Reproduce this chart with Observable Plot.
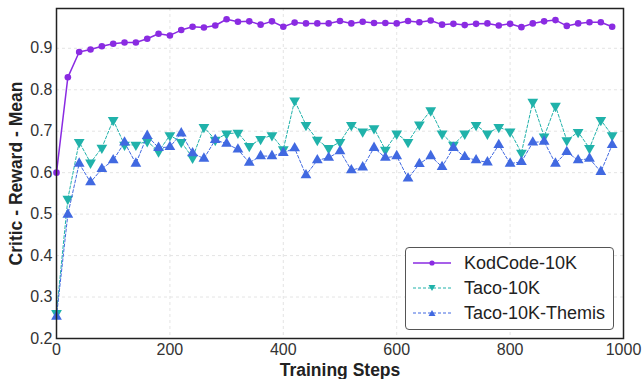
<!DOCTYPE html>
<html><head><meta charset="utf-8">
<script src="https://cdn.jsdelivr.net/npm/d3@7"></script>
<script src="https://cdn.jsdelivr.net/npm/@observablehq/plot@0.6"></script>
<style>
body{margin:0;background:#fff;font-family:"Liberation Sans",Arial,sans-serif;}
#wrap{position:relative;width:642px;height:379px;overflow:hidden;}
#legend{position:absolute;left:405px;top:247px;width:209px;height:83px;border:1.2px solid #555;border-radius:4px;background:#fff;box-sizing:border-box;font-size:18px;color:#222;}
.row{position:absolute;left:7px;height:24px;display:flex;align-items:center;}
.row span{margin-left:13px;}
</style></head>
<body><div id="wrap"></div>
<script>
const steps = d3.range(0, 1000, 20);
const kodcode = [0.600,0.830,0.891,0.897,0.905,0.911,0.914,0.914,0.923,0.935,
 0.931,0.944,0.952,0.950,0.955,0.970,0.964,0.965,0.957,0.965,
 0.952,0.962,0.960,0.960,0.960,0.966,0.960,0.964,0.961,0.961,
 0.960,0.966,0.963,0.967,0.957,0.959,0.956,0.959,0.960,0.955,
 0.959,0.951,0.960,0.965,0.968,0.954,0.960,0.963,0.963,0.952];
const taco = [0.261,0.537,0.674,0.624,0.660,0.727,0.667,0.667,0.676,0.651,
 0.690,0.674,0.636,0.710,0.679,0.694,0.696,0.664,0.681,0.690,
 0.656,0.774,0.715,0.679,0.659,0.674,0.715,0.699,0.707,0.655,
 0.694,0.674,0.716,0.750,0.694,0.667,0.694,0.715,0.694,0.710,
 0.699,0.648,0.771,0.687,0.761,0.678,0.698,0.659,0.727,0.690];
const themis = [0.253,0.499,0.622,0.577,0.609,0.630,0.673,0.622,0.689,0.660,
 0.662,0.695,0.647,0.634,0.679,0.670,0.656,0.624,0.640,0.640,
 0.648,0.659,0.594,0.630,0.636,0.652,0.606,0.613,0.660,0.636,
 0.640,0.586,0.621,0.640,0.614,0.660,0.638,0.630,0.625,0.667,
 0.622,0.626,0.673,0.675,0.622,0.650,0.630,0.634,0.602,0.667];
const seriesNames = ["KodCode-10K","Taco-10K","Taco-10K-Themis"];
const colors = ["#8a2be2","#20b2aa","#4169e1"];
const xTicks = [0,200,400,600,800,1000];
const yTicks = [0.2,0.3,0.4,0.5,0.6,0.7,0.8,0.9];

const mk = (vals) => steps.map((s,i)=>({step:s, v:vals[i]}));
const dK = mk(kodcode), dT = mk(taco), dH = mk(themis);

const plot = Plot.plot({
  width: 642, height: 379,
  marginLeft: 56, marginRight: 19, marginTop: 8, marginBottom: 41,
  style: {fontFamily: '"Liberation Sans", Arial, sans-serif', fontSize: "16px", color: "#333", background: "#fff", overflow: "visible"},
  x: {domain: [0, 1000]},
  y: {domain: [0.2, 0.996]},
  marks: [
    Plot.gridX(xTicks, {stroke: "#ddd", strokeOpacity: 1, strokeDasharray: "3,3", strokeWidth: 0.8}),
    Plot.gridY(yTicks, {stroke: "#ddd", strokeOpacity: 1, strokeDasharray: "3,3", strokeWidth: 0.8}),
    Plot.line(dT, {x: "step", y: "v", stroke: colors[1], strokeWidth: 1, strokeDasharray: "3,2"}),
    Plot.dot(dT, {x: "step", y: "v", symbol: "triangle", r: 4, fill: colors[1], rotate: 180}),
    Plot.line(dH, {x: "step", y: "v", stroke: colors[2], strokeWidth: 1, strokeDasharray: "3,2"}),
    Plot.dot(dH, {x: "step", y: "v", symbol: "triangle", r: 4, fill: colors[2]}),
    Plot.line(dK, {x: "step", y: "v", stroke: colors[0], strokeWidth: 1.5}),
    Plot.dot(dK, {x: "step", y: "v", r: 3.3, fill: colors[0]}),
    Plot.axisX(xTicks, {tickSize: 0, tickPadding: 5, fontSize: 16, tickFormat: d3.format("d"), label: "Training Steps", labelAnchor: "center", labelArrow: "none", labelOffset: 37}),
    Plot.axisY(yTicks, {tickSize: 0, tickPadding: 4, fontSize: 16, tickFormat: d3.format(".1f"), label: "Critic - Reward - Mean", labelAnchor: "center", labelArrow: "none", labelOffset: 47}),
    Plot.frame({stroke: "#222", strokeWidth: 1.5})
  ]
});
const wrap = document.getElementById("wrap");
wrap.appendChild(plot);
plot.querySelectorAll('[aria-label="x-axis label"] text, [aria-label="y-axis label"] text').forEach(t=>{t.style.fontSize="17.5px";t.style.fontWeight="bold";t.style.fill="#222";});

// legend
const leg = document.createElement("div");
leg.id = "legend";
const syms = ["circle","tdown","tup"];
seriesNames.forEach((name,i)=>{
  const row = document.createElement("div");
  row.className = "row";
  row.style.top = (3 + i*25) + "px";
  const c = colors[i];
  let marker;
  if (syms[i]==="circle") marker = `<circle cx="19" cy="8" r="2.6" fill="${c}"/>`;
  else if (syms[i]==="tdown") marker = `<path d="M15.5,5 L22.5,5 L19,11 Z" fill="${c}"/>`;
  else marker = `<path d="M15.5,11 L22.5,11 L19,5 Z" fill="${c}"/>`;
  const dash = i===0 ? "" : `stroke-dasharray="3,2"`;
  row.innerHTML = `<svg width="38" height="16"><line x1="0" y1="8" x2="38" y2="8" stroke="${c}" stroke-width="${i===0?1.5:1}" ${dash}/>${marker}</svg><span>${name}</span>`;
  leg.appendChild(row);
});
wrap.appendChild(leg);
</script></body></html>
